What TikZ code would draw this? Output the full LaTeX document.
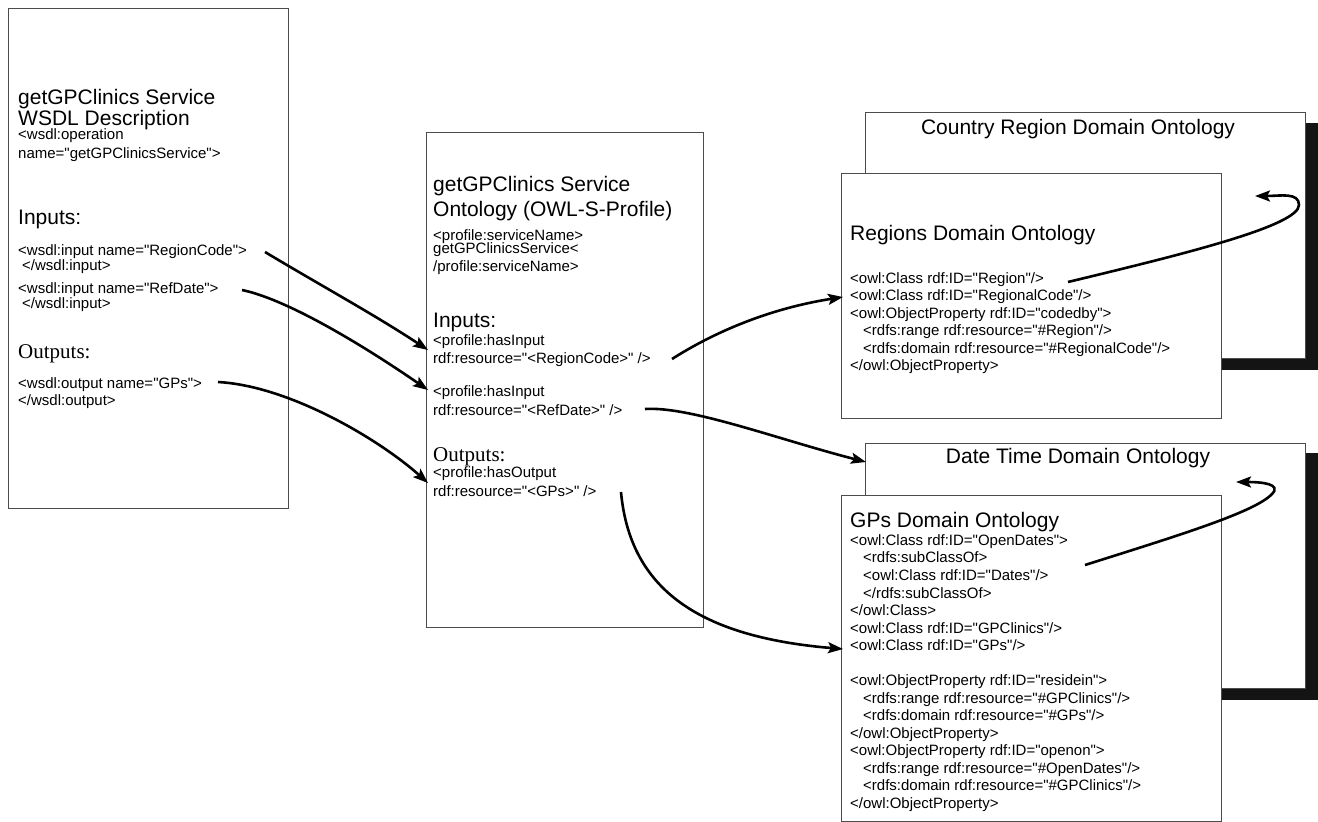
\documentclass[tikz,border=0pt]{standalone}
\usepackage{fontspec}
\setmainfont{Liberation Sans}[Ligatures=TeXOff]
\newfontfamily\timesf{Liberation Serif}[Ligatures=TeXOff]
\usetikzlibrary{arrows.meta}
\tikzset{
  box/.style={draw=black!70, line width=1pt, fill=white},
  shadowbox/.style={fill=black!92, draw=none},
  big/.style={font=\fontsize{21}{24}\selectfont, anchor=base west, inner sep=0pt},
  bigc/.style={font=\fontsize{21}{24}\selectfont, anchor=base, inner sep=0pt},
  small/.style={font=\fontsize{15}{17}\selectfont, anchor=base west, inner sep=0pt},
  outs/.style={font=\timesf\fontsize{21}{24}\selectfont, anchor=base west, inner sep=0pt},
  link/.style={line width=2.6pt, -{Stealth[length=15pt,width=11pt,inset=3pt]}},
}
\begin{document}
\begin{tikzpicture}[x=1pt,y=-1pt]
\useasboundingbox (0,0) rectangle (1318,822);

% ---------- boxes ----------
\draw[box] (8,8) rectangle (288,508);
\draw[box] (426,132) rectangle (703,627);
\fill[shadowbox] (877,123) rectangle (1318,370);
\draw[box] (865,112) rectangle (1305,358);
\draw[box] (841,173) rectangle (1221,418);
\fill[shadowbox] (877,453) rectangle (1318,700);
\draw[box] (865,443) rectangle (1305,688);
\draw[box] (841,495) rectangle (1221,821);

% ---------- left box text ----------
\node[big]   (l1)  at (18,104) {getGPClinics Service};
\node[big]   (l2)  at (18,125) {WSDL Description};
\node[small] (l3)  at (18,139) {<wsdl:operation};
\node[small] (l4)  at (18,158) {name="getGPClinicsService">};
\node[big]   (l5)  at (18,224) {Inputs:};
\node[small] (l6)  at (18,255) {<wsdl:input name="RegionCode">};
\node[small] (l7)  at (22,270) {</wsdl:input>};
\node[small] (l8)  at (18,293) {<wsdl:input name="RefDate">};
\node[small] (l9)  at (22,308) {</wsdl:input>};
\node[outs]  (l10) at (18,358) {Outputs:};
\node[small] (l11) at (18,388) {<wsdl:output name="GPs">};
\node[small] (l12) at (18,405) {</wsdl:output>};

% ---------- middle box text ----------
\node[big]   (m1)  at (433,191) {getGPClinics Service};
\node[big]   (m2)  at (433,216) {Ontology (OWL-S-Profile)};
\node[small] (m3)  at (433,240) {<profile:serviceName>};
\node[small] (m4)  at (433,253) {getGPClinicsService<};
\node[small] (m5)  at (433,271) {/profile:serviceName>};
\node[big]   (m6)  at (433,327) {Inputs:};
\node[small] (m7)  at (433,345) {<profile:hasInput};
\node[small] (m8)  at (433,363) {rdf:resource="<RegionCode>" />};
\node[small] (m9)  at (433,396) {<profile:hasInput};
\node[small] (m10) at (433,415) {rdf:resource="<RefDate>" />};
\node[outs]  (m11) at (433,461) {Outputs:};
\node[small] (m12) at (433,477) {<profile:hasOutput};
\node[small] (m13) at (433,496) {rdf:resource="<GPs>" />};

% ---------- right upper ----------
\node[bigc]  (c0)  at (1078,134) {Country Region Domain Ontology};
\node[big]   (r0)  at (850,240) {Regions Domain Ontology};
\node[small] (r1)  at (850,283) {<owl:Class rdf:ID="Region"/>};
\node[small] (r2)  at (850,300.5) {<owl:Class rdf:ID="RegionalCode"/>};
\node[small] (r3)  at (850,318) {<owl:ObjectProperty rdf:ID="codedby">};
\node[small] (r4)  at (863,335.5) {<rdfs:range rdf:resource="\#Region"/>};
\node[small] (r5)  at (863,353) {<rdfs:domain rdf:resource="\#RegionalCode"/>};
\node[small] (r6)  at (850,370.5) {</owl:ObjectProperty>};

% ---------- right lower ----------
\node[bigc]  (d0)  at (1078,463) {Date Time Domain Ontology};
\node[big]   (g0)  at (850,527) {GPs Domain Ontology};
\node[small] (g1)  at (850,545) {<owl:Class rdf:ID="OpenDates">};
\node[small] (g2)  at (863,562.5) {<rdfs:subClassOf>};
\node[small] (g3)  at (863,580) {<owl:Class rdf:ID="Dates"/>};
\node[small] (g4)  at (863,598) {</rdfs:subClassOf>};
\node[small] (g5)  at (850,615.5) {</owl:Class>};
\node[small] (g6)  at (850,633) {<owl:Class rdf:ID="GPClinics"/>};
\node[small] (g7)  at (850,650.5) {<owl:Class rdf:ID="GPs"/>};
\node[small] (g8)  at (850,685.5) {<owl:ObjectProperty rdf:ID="residein">};
\node[small] (g9)  at (863,703) {<rdfs:range rdf:resource="\#GPClinics"/>};
\node[small] (g10) at (863,720.5) {<rdfs:domain rdf:resource="\#GPs"/>};
\node[small] (g11) at (850,738) {</owl:ObjectProperty>};
\node[small] (g12) at (850,755.5) {<owl:ObjectProperty rdf:ID="openon">};
\node[small] (g13) at (863,773) {<rdfs:range rdf:resource="\#OpenDates"/>};
\node[small] (g14) at (863,790.5) {<rdfs:domain rdf:resource="\#GPClinics"/>};
\node[small] (g15) at (850,808) {</owl:ObjectProperty>};

% ---------- connector end points ----------
\coordinate (s1) at (265,252);  \coordinate (e1) at (428,350);
\coordinate (s2) at (242,290);  \coordinate (e2) at (428,390);
\coordinate (s3) at (218,382);  \coordinate (e3) at (428,483);
\coordinate (s4) at (672,359);  \coordinate (e4) at (843,297);
\coordinate (s5) at (645,409);  \coordinate (e5) at (866,462);
\coordinate (s6) at (621,492);  \coordinate (e6) at (843,649);
\coordinate (s7) at (1068,282); \coordinate (k7) at (1299,205); \coordinate (e7) at (1255,196);
\coordinate (s8) at (1085,565); \coordinate (k8) at (1272,494); \coordinate (e8) at (1236,482);

% ---------- connectors ----------
\draw[link] (s1) .. controls (320,285) and (375,315) .. (e1);
\draw[link] (s2) .. controls (290,300) and (370,350) .. (e2);
\draw[link] (s3) .. controls (290,386) and (380,440) .. (e3);
\draw[link] (s4) .. controls (705,338) and (760,310) .. (e4);
\draw[link] (s5) .. controls (690,406) and (780,440) .. (e5);
\draw[link] (s6) .. controls (630,590) and (700,637) .. (e6);
\draw[link] (s7) .. controls (1180,255) and (1299,226) .. (k7)
                 .. controls (1299,192) and (1280,196) .. (e7);
\draw[link] (s8) .. controls (1180,535) and (1255,512) .. (k8)
                 .. controls (1282,484) and (1262,482) .. (e8);
\end{tikzpicture}
\end{document}
